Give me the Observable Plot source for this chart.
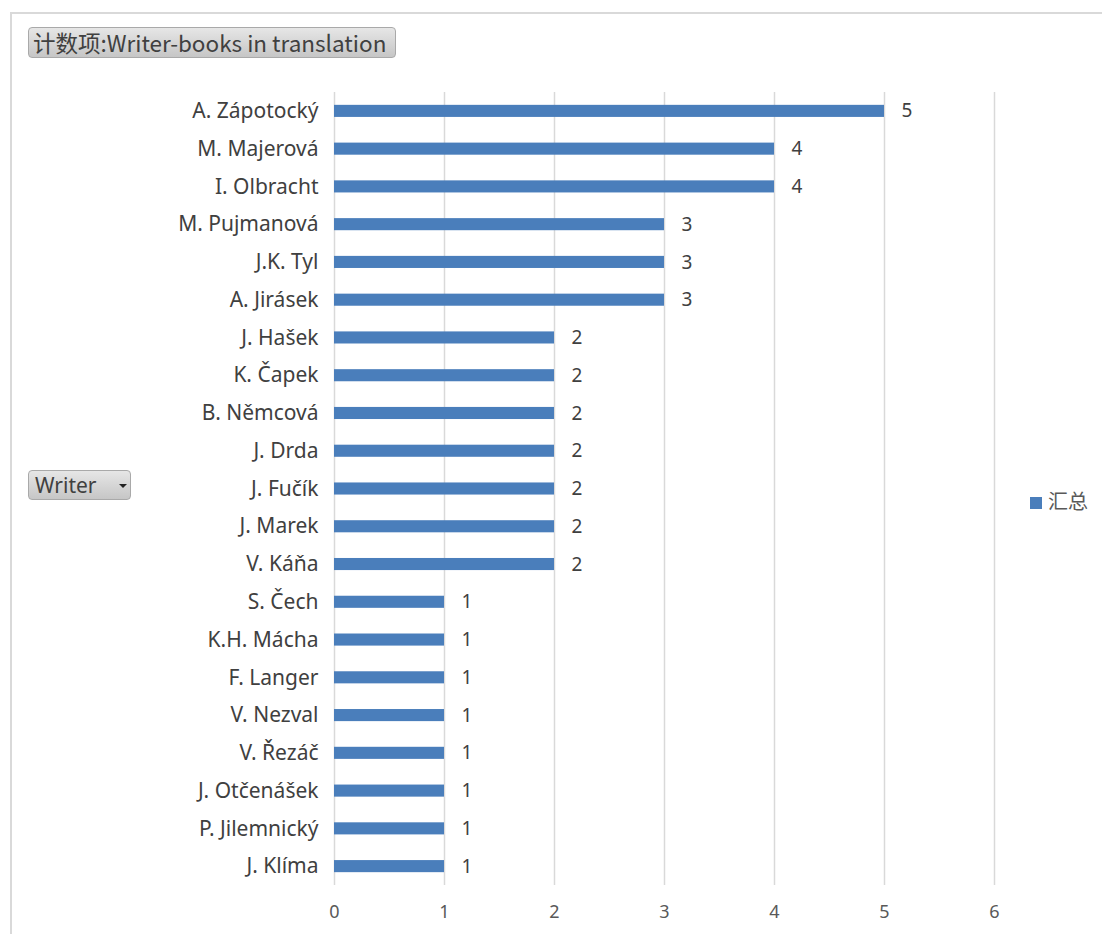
<!DOCTYPE html>
<html><head><meta charset="utf-8">
<script src="https://cdn.jsdelivr.net/npm/d3@7"></script>
<script src="https://cdn.jsdelivr.net/npm/@observablehq/plot@0.6"></script>
<style>
body{margin:0;background:#fff;font-family:"Noto Sans","Noto Sans CJK SC",sans-serif;overflow:hidden;}
#frame{position:absolute;left:10px;top:12px;width:1200px;height:1000px;border-left:2px solid #d9d9d9;border-top:2px solid #d9d9d9;}
.btn{position:absolute;box-sizing:border-box;border:1px solid #a9a9a9;border-radius:4px;background:linear-gradient(#e6e6e6,#c6c6c6);color:#404040;font-size:22.5px;line-height:28px;padding:0 6px;white-space:nowrap;font-family:"Noto Sans CJK SC","Noto Sans",sans-serif;}
#title{left:28px;top:27px;height:31px;width:368px;padding-left:4px;}
#writer{left:28px;top:470px;height:30px;width:103px;font-family:"Noto Sans",sans-serif;font-size:21px;}
#writer .tri{position:absolute;left:90px;top:13px;width:0;height:0;border-left:4px solid transparent;border-right:4px solid transparent;border-top:4px solid #222;}
#legend{position:absolute;left:1030px;top:486px;font-size:20px;color:#595959;font-family:"Noto Sans CJK SC",sans-serif;}
#legend .sw{display:inline-block;width:12px;height:12px;background:#4a7ebb;margin-right:6px;vertical-align:0px;}
#chart{position:absolute;left:0;top:0;}
</style></head>
<body>
<div id="frame"></div>
<div id="chart"></div>
<div class="btn" id="title">计数项:Writer-books in translation</div>
<div class="btn" id="writer">Writer<span class="tri"></span></div>
<div id="legend"><span class="sw"></span>汇总</div>
<script>
const writers = ["A. Zápotocký","M. Majerová","I. Olbracht","M. Pujmanová","J.K. Tyl","A. Jirásek","J. Hašek","K. Čapek","B. Němcová","J. Drda","J. Fučík","J. Marek","V. Káňa","S. Čech","K.H. Mácha","F. Langer","V. Nezval","V. Řezáč","J. Otčenášek","P. Jilemnický","J. Klíma"];
const counts = [5,4,4,3,3,3,2,2,2,2,2,2,2,1,1,1,1,1,1,1,1];
const xTicks = [0,1,2,3,4,5,6];
const data = writers.map((w,i)=>({writer:w, count:counts[i]}));

const chart = Plot.plot({
  width: 1102,
  height: 934,
  marginLeft: 334,
  marginRight: 108,
  marginTop: 92,
  marginBottom: 49,
  style:{fontFamily:'"Noto Sans",sans-serif', fontSize:"20px", color:"#404040", background:"transparent"},
  x:{domain:[0,6], ticks:xTicks, label:null, tickSize:0, tickPadding:21},
  y:{domain:writers, label:null, tickSize:0, tickPadding:16, paddingInner:0.68, paddingOuter:0.34, round:false},
  marks:[
    Plot.gridX(xTicks,{stroke:"#d9d9d9", strokeOpacity:1, strokeWidth:1.5}),
    Plot.axisX({ticks:xTicks, tickFormat:"d", tickSize:0, tickPadding:20, fontSize:18, fill:"#595959", label:null}),
    Plot.axisY({tickSize:0, tickPadding:16, fontSize:21, fill:"#404040", label:null}),
    Plot.barX(data,{x:"count", y:"writer", fill:"#4a7ebb"}),
    Plot.text(data,{x:"count", y:"writer", text:d=>String(d.count), textAnchor:"start", dx:17, fontSize:19, fill:"#404040"})
  ]
});
document.getElementById("chart").appendChild(chart);
</script>
</body></html>
